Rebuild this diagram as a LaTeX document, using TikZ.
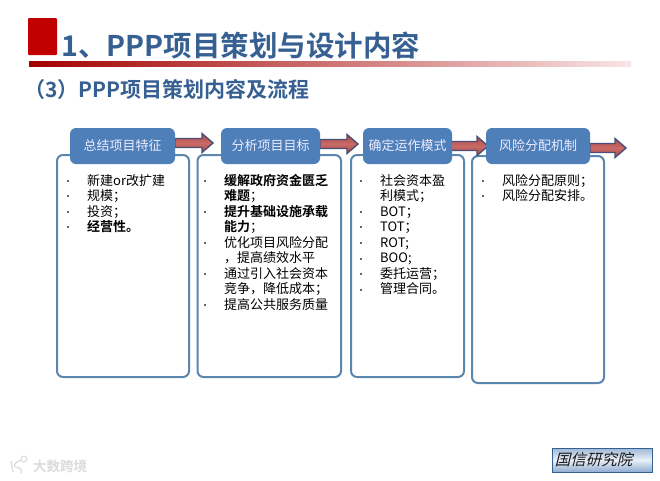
\documentclass[tikz,border=0pt]{standalone}
\usepackage{fontspec}
\setmainfont{Noto Sans CJK SC}
\newfontfamily\cjkb{Noto Sans CJK SC Bold}
\newfontfamily\cjkslant[FakeSlant=0.25]{Noto Sans CJK SC}
\usetikzlibrary{shadings}
\definecolor{titleblue}{HTML}{376092}
\definecolor{boxblue}{HTML}{4F7FB8}
\definecolor{edgeblue}{HTML}{5B87AE}
\definecolor{brick}{HTML}{C00000}
\definecolor{arrowline}{HTML}{4A4F75}
\definecolor{arrowred}{HTML}{C0504D}
\tikzset{
 x=1pt,y=-1pt,
 head/.style={fill=boxblue,rounded corners=6pt,inner sep=0pt,outer sep=0pt,text=white!92!blue,font=\fontsize{13}{15}\selectfont,minimum height=36pt,anchor=north west},
 panel/.style={draw=edgeblue,line width=2pt,fill=white,rounded corners=6pt,inner sep=0pt,outer sep=0pt,anchor=north west},
 item/.style={anchor=north west,inner sep=0pt,font=\fontsize{13}{15.5}\selectfont,align=left,text=black},
 dotm/.style={anchor=center,inner sep=0pt,fill=black!60,minimum size=1.6pt},
 arrowshape/.style={draw=arrowline,line width=1.4pt,top color=arrowred!90!black,bottom color=arrowred!90!black,middle color=arrowred!85!white,line join=miter},
 ttl/.style={anchor=west,inner sep=0pt,text=titleblue},
}
% start x, tip x, centre y
\newcommand{\flowarrow}[3]{\draw[arrowshape] (#1,#3-4.5) -- (#2-11,#3-4.5) -- (#2-11,#3-9.5) -- (#2,#3) -- (#2-11,#3+9.5) -- (#2-11,#3+4.5) -- (#1,#3+4.5) -- cycle;}
\begin{document}
\begin{tikzpicture}
\useasboundingbox (0,0) rectangle (660,480);
\fill[white] (0,0) rectangle (660,480);
% title
\shade[left color=brick!85!black,right color=brick!10!white,draw=none] (29,61) rectangle (631,66);
\fill[brick,rounded corners=1pt] (28,18) rectangle (57,55);
\node[ttl,font=\fontsize{28.5}{32}\selectfont\cjkb] (t1) at (61,46) {1、PPP项目策划与设计内容};
\node[ttl,font=\fontsize{21}{24}\selectfont\cjkb] (t2) at (24,90) {（3）PPP项目策划内容及流程};
% panels
\node[panel,minimum width=132pt,minimum height=222pt] (p1) at (57,155) {};
\node[panel,minimum width=143.5pt,minimum height=222pt] (p2) at (197.5,155) {};
\node[panel,minimum width=113pt,minimum height=222pt] (p3) at (351,155) {};
\node[panel,minimum width=132pt,minimum height=227pt] (p4) at (472,156) {};
% arrows
\flowarrow{175}{213}{143}
\flowarrow{320}{358}{144}
\flowarrow{451}{488}{146}
\flowarrow{590}{626}{148}
% heads
\node[head,minimum width=105pt] (h1) at (70,128) {总结项目特征};
\node[head,minimum width=99pt] (h2) at (221,128) {分析项目目标};
\node[head,minimum width=89pt] (h3) at (363,128) {确定运作模式};
\node[head,minimum width=104pt] (h4) at (486,128) {风险分配机制};
% lists
\node[item] (a) at (87,174) {新建or改扩建\\规模；\\投资；\\{\cjkb 经营性。}};
\node[item] (b) at (224,174) {{\cjkb 缓解政府资金匮乏}\\{\cjkb 难题}；\\{\cjkb 提升基础设施承载}\\{\cjkb 能力}；\\优化项目风险分配\\，提高绩效水平\\通过引入社会资本\\竞争，降低成本；\\提高公共服务质量};
\node[item] (c) at (380,174) {社会资本盈\\利模式；\\BOT；\\TOT；\\ROT;\\BOO;\\委托运营；\\管理合同。};
\node[item] (d) at (502,174) {风险分配原则；\\风险分配安排。};
\foreach \n/\x/\y in {a1/68/181,a2/68/196,a3/68/212,a4/68/227,
 b1/205/181,b2/205/212,b3/205/243,b4/205/274,b5/205/305,
 c1/361/181,c2/361/212,c3/361/227,c4/361/243,c5/361/259,c6/361/274,c7/361/290,
 d1/483/181,d2/483/196}
 \node[dotm] (\n) at (\x,\y) {};
% badge
\node[draw=titleblue,line width=.8pt,shading=axis,shading angle=20,top color=boxblue!55!white,bottom color=boxblue!65!white,middle color=boxblue!12!white,minimum width=100pt,minimum height=24pt,inner sep=0pt,font=\fontsize{15.5}{17}\selectfont\cjkslant,text=black!90] (badge) at (602,460) {\hspace*{-17pt}国信研究院};
% watermark
\node[anchor=west,inner sep=0pt,text=black!14,font=\fontsize{13.5}{15}\selectfont\cjkb] (wm) at (33,466) {大数跨境};
\draw[black!14,line width=1.2pt] (11,461) -- (13,472) (21,460) .. controls (14,463) and (13,466) .. (16,467) .. controls (20,468) and (23,470) .. (21,473);
\draw[black!14,line width=1pt] (24,459) circle (3pt);
\end{tikzpicture}
\end{document}
